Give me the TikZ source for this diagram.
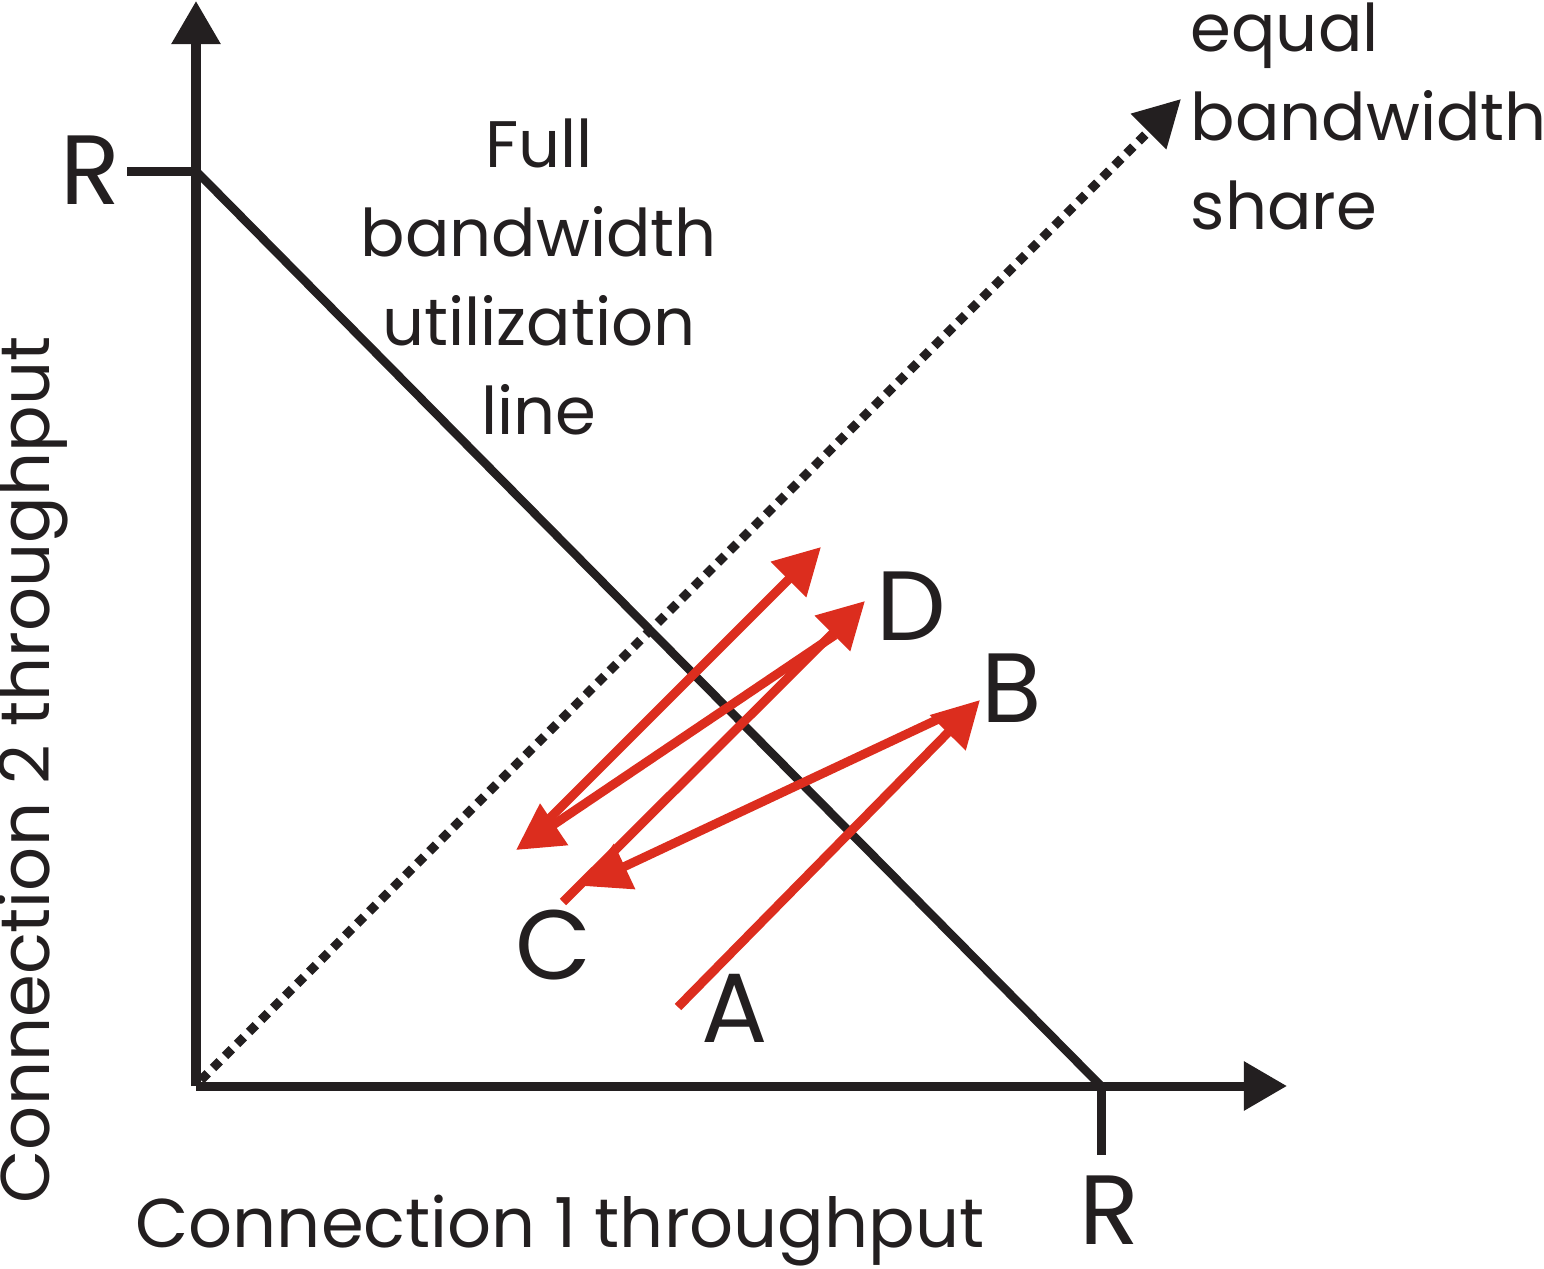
\documentclass[tikz,border=0pt]{standalone}
\usepackage{fontspec}
\setmainfont{Poppins}
\usetikzlibrary{arrows.meta}
\definecolor{inkBlack}{HTML}{231F20}
\definecolor{stepRed}{HTML}{DC2D1E}
\tikzstyle{axisLine}=[draw = inkBlack, line width = 0.09cm]
\tikzstyle{axisTip}=[-{Triangle[length = 0.43cm, width = 0.47cm]}]
\tikzstyle{stepArrow}=[draw = stepRed, line width = 0.09cm, -{Triangle[length = 0.46cm, width = 0.48cm]}]
\tikzstyle{pointLabel}=[inner sep = 0pt, text = inkBlack, font = \fontsize{28}{30}\selectfont]
\tikzstyle{captionText}=[inner sep = 0pt, text = inkBlack, font = \fontsize{18.7}{25.3}\selectfont]
\tikzstyle{axisText}=[inner sep = 0pt, text = inkBlack, font = \fontsize{19.6}{24}\selectfont]

\begin{document}
\begin{tikzpicture}[x = 0.01cm, y = -0.01cm]
\useasboundingbox (0,0) rectangle (1544,1269);
% axes and ticks
\coordinate (origin) at (196,1086);
\coordinate (yTip) at (196,1);
\coordinate (xTip) at (1287,1086);
\coordinate (rY) at (196,171);
\coordinate (rYtick) at (127,171);
\coordinate (rX) at (1101,1086);
\coordinate (rXtick) at (1101,1155);
\draw[axisLine, axisTip] (origin) -- (yTip);
\draw[axisLine, axisTip] (origin) -- (xTip);
\draw[axisLine] (rYtick) -- (rY);
\draw[axisLine] (rX) -- (rXtick);
\draw[axisLine, line width = 0.085cm] (rY) -- (rX);
% equal share line
\coordinate (shareStart) at (201,1080);
\coordinate (shareTip) at (1181,99);
\draw[axisLine, dash pattern = on 0.095cm off 0.075cm, -{Triangle[length = 0.46cm, width = 0.48cm]}] (shareStart) -- (shareTip);
% red steps
\coordinate (a0) at (678,1007);
\coordinate (b1) at (980,700);
\coordinate (b0) at (945,716);
\coordinate (c1) at (583,886);
\coordinate (c0) at (563,902);
\coordinate (d1) at (865,601);
\coordinate (d0) at (835,635);
\coordinate (e1) at (516,850);
\coordinate (e0) at (540,828);
\coordinate (f1) at (821,547);
\draw[stepArrow] (a0) -- (b1);
\draw[stepArrow] (b0) -- (c1);
\draw[stepArrow] (c0) -- (d1);
\draw[stepArrow] (d0) -- (e1);
\draw[stepArrow] (e0) -- (f1);
% labels
\node[pointLabel] (labA) at (735,1008) {A};
\node[pointLabel] (labB) at (1012,688) {B};
\node[pointLabel] (labC) at (554,945) {C};
\node[pointLabel] (labD) at (911,606) {D};
\node[pointLabel] (labRy) at (90,170) {R};
\node[pointLabel] (labRx) at (1109,1210) {R};
\node[captionText, align = center, anchor = north] (fullText) at (539,118) {Full\\bandwidth\\utilization\\line};
\node[captionText, align = left, anchor = north west] (shareText) at (1190,2) {equal\\bandwidth\\share};
\node[axisText, anchor = base] (xLabel) at (560,1247) {Connection 1 throughput};
\node[axisText, anchor = base, rotate = 90] (yLabel) at (50,770) {Connection 2 throughput};
\end{tikzpicture}
\end{document}
